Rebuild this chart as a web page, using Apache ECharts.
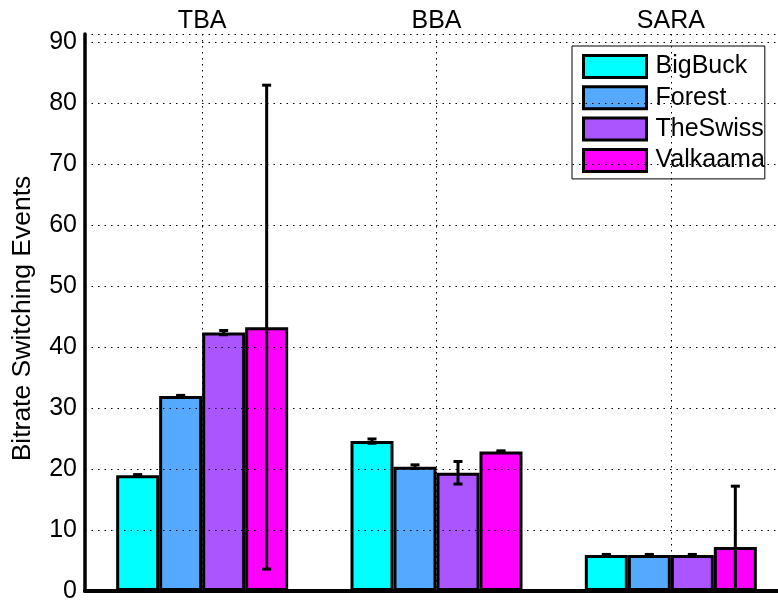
<!DOCTYPE html>
<html>
<head>
<meta charset="utf-8">
<script src="https://cdn.jsdelivr.net/npm/echarts@6/dist/echarts.min.js"></script>
<style>
html,body{margin:0;padding:0;background:#fff;}
#chart{width:778px;height:603px;}
</style>
</head>
<body>
<div id="chart"></div>
<script>
var categories = ['TBA', 'BBA', 'SARA'];
var seriesNames = ['BigBuck', 'Forest', 'TheSwiss', 'Valkaama'];
var bigBuck = [19.0, 24.6, 5.9];
var forest = [32.0, 20.4, 5.9];
var theSwiss = [42.4, 19.4, 5.9];
var valkaama = [43.3, 22.9, 7.2];
var bigBuckErr = [0.1, 0.35, 0.1];
var forestErr = [0.1, 0.3, 0.1];
var theSwissErr = [0.35, 1.85, 0.1];
var valkaamaErr = [39.7, 0.1, 10.0];
var yTicks = [0, 10, 20, 30, 40, 50, 60, 70, 80, 90];

var colors = ['#00FFFF', '#55AAFF', '#AA55FF', '#FF00FF'];
var means = [bigBuck, forest, theSwiss, valkaama];
var errs = [bigBuckErr, forestErr, theSwissErr, valkaamaErr];
var BAR_W = 43;
var FONT = 'Liberation Sans, Arial, sans-serif';

var chart = echarts.init(document.getElementById('chart'), null, {renderer: 'canvas'});

var series = [];
means.forEach(function (vals, i) {
  series.push({
    name: seriesNames[i],
    type: 'bar',
    xAxisIndex: 0,
    data: vals,
    barWidth: BAR_W,
    barGap: '0%',
    itemStyle: {color: colors[i], borderColor: '#000', borderWidth: 3},
    emphasis: {disabled: true},
    z: 2
  });
});
means.forEach(function (vals, i) {
  var d = vals.map(function (v, k) { return [k, v, errs[i][k]]; });
  series.push({
    name: seriesNames[i] + ' err',
    type: 'custom',
    xAxisIndex: 0,
    data: d,
    z: 5,
    clip: true,
    silent: true,
    renderItem: function (params, api) {
      var c = api.value(0), m = api.value(1), e = api.value(2);
      var top = api.coord([c, m + e]);
      var bot = api.coord([c, m - e]);
      var x = top[0] + (i - 1.5) * BAR_W;
      var cap = 4.5;
      var st = {stroke: '#000', lineWidth: 3};
      return {
        type: 'group',
        children: [
          {type: 'line', shape: {x1: x, y1: top[1], x2: x, y2: bot[1]}, style: st},
          {type: 'line', shape: {x1: x - cap, y1: top[1], x2: x + cap, y2: top[1]}, style: st},
          {type: 'line', shape: {x1: x - cap, y1: bot[1], x2: x + cap, y2: bot[1]}, style: st}
        ]
      };
    }
  });
});

chart.setOption({
  animation: false,
  backgroundColor: '#fff',
  grid: {left: 85, top: 34, right: -10, bottom: 12, containLabel: false, outerBoundsMode: 'none'},
  legend: {
    data: seriesNames,
    orient: 'vertical',
    left: 572,
    top: 46,
    itemWidth: 63,
    itemHeight: 22,
    itemGap: 6.3,
    padding: [8, 0, 6, 10],
    backgroundColor: '#fff',
    borderColor: '#000',
    borderWidth: 1,
    borderRadius: 0,
    icon: 'rect',
    itemStyle: {borderColor: '#000', borderWidth: 3},
    textStyle: {fontFamily: FONT, fontSize: 25, lineHeight: 22, color: '#000', padding: [0, 0, 0, 4]}
  },
  xAxis: [{
    type: 'category',
    data: categories,
    position: 'top',
    axisLine: {show: true, lineStyle: {color: '#000', width: 4}},
    axisTick: {show: false},
    axisLabel: {fontFamily: FONT, fontSize: 25, color: '#000', margin: 0},
    splitLine: {show: true, alignWithLabel: true, lineStyle: {color: '#000', width: 1, type: [1.5, 4.5]}},
    z: 10
  }, {
    type: 'category',
    data: categories,
    position: 'bottom',
    axisLine: {show: true, lineStyle: {color: '#000', width: 4}},
    axisTick: {show: false},
    axisLabel: {show: false},
    splitLine: {show: false},
    z: 10
  }],
  yAxis: {
    type: 'value',
    min: 0,
    max: 91.4,
    interval: 10,
    name: 'Bitrate Switching Events',
    nameLocation: 'middle',
    nameRotate: 90,
    nameGap: 49,
    nameTextStyle: {fontFamily: FONT, fontSize: 26.5, color: '#000', padding: [0, 12, 0, 0]},
    axisLine: {show: true, lineStyle: {color: '#000', width: 3.5}},
    axisTick: {show: false},
    axisLabel: {
      fontFamily: FONT, fontSize: 25, color: '#000', margin: 8,
      formatter: function (v) { return yTicks.indexOf(v) >= 0 ? String(v) : ''; }
    },
    splitLine: {show: true, lineStyle: {color: '#000', width: 1, type: [1.5, 5]}},
    z: 10
  },
  series: series
});
</script>
</body>
</html>
